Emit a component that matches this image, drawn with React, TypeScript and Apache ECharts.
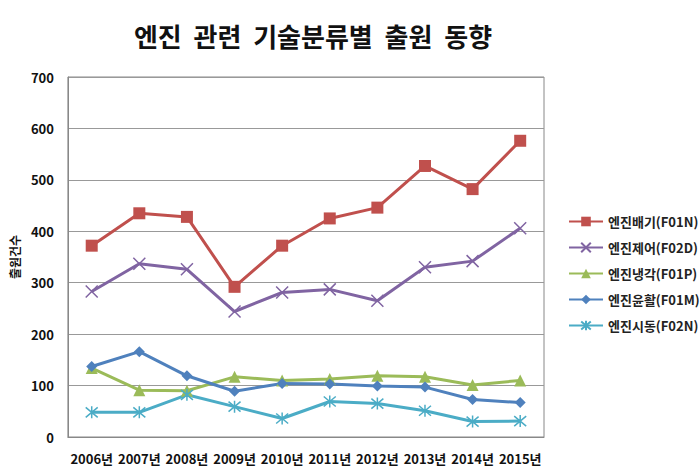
import React, { useEffect, useRef } from "react";
import * as echarts from "echarts";

const categories = ["2006년", "2007년", "2008년", "2009년", "2010년", "2011년", "2012년", "2013년", "2014년", "2015년"];
const seriesNames = ["엔진배기(F01N)", "엔진제어(F02D)", "엔진냉각(F01P)", "엔진윤활(F01M)", "엔진시동(F02N)"];
const exhaust = [372, 435, 428, 292, 372, 425, 446, 527, 482, 576];
const control = [283, 337, 326, 244, 281, 287, 265, 330, 342, 406];
const cooling = [134, 91, 90, 117, 110, 113, 119, 117, 101, 110];
const lubrication = [137, 166, 119, 89, 104, 103, 99, 97, 73, 67];
const starting = [48, 48, 82, 59, 36, 69, 65, 51, 30, 31];
const colors = ["#C0504D", "#8064A2", "#9BBB59", "#4F81BD", "#4BACC6"];

const FONT = "'Noto Sans CJK KR', 'Noto Sans', sans-serif";

export default function App() {
  const ref = useRef<HTMLDivElement>(null);
  useEffect(() => {
    if (!ref.current) return;
    const chart = echarts.init(ref.current, undefined, { renderer: "svg" });
    const xSym = "path://M0,0L10,10M10,0L0,10";
    const starSym = "path://M0,0L10,10M10,0L0,10M5,-1L5,11";
    const dataSets = [exhaust, control, cooling, lubrication, starting];
    const symbols = ["rect", xSym, "triangle", "diamond", starSym];
    const sizes = [12, 12, 12, 11, 12];
    chart.setOption({
      animation: false,
      color: colors,
      title: {
        text: "엔진  관련  기술분류별  출원  동향",
        left: 308,
        textAlign: "center",
        top: 17,
        textStyle: { fontFamily: FONT, fontSize: 26, fontWeight: "bold", color: "#111" },
      },
      legend: {
        orient: "vertical",
        left: 563,
        top: 210,
        itemGap: 13,
        itemWidth: 34,
        itemHeight: 12,
        textStyle: { fontFamily: FONT, fontSize: 13, fontWeight: "bold", color: "#222" },
        data: seriesNames,
      },
      grid: { left: 60, right: 156, top: 77, bottom: 37, show: true, borderColor: "#888", borderWidth: 1 },
      xAxis: {
        type: "category",
        data: categories,
        boundaryGap: true,
        axisLine: { lineStyle: { color: "#888" } },
        axisTick: { show: false },
        axisLabel: { fontFamily: FONT, fontSize: 13, fontWeight: "bold", color: "#111", margin: 15, interval: 0 },
      },
      yAxis: {
        type: "value",
        min: 0,
        max: 700,
        interval: 100,
        name: "출원건수",
        nameLocation: "middle",
        nameGap: 47,
        nameRotate: 90,
        nameTextStyle: { fontFamily: FONT, fontSize: 12, fontWeight: "bold", color: "#111" },
        axisLine: { show: true, lineStyle: { color: "#888" } },
        axisTick: { show: false },
        splitLine: { lineStyle: { color: "#999", width: 1 } },
        axisLabel: { fontFamily: FONT, fontSize: 13, fontWeight: "bold", color: "#111", margin: 14 },
      },
      series: dataSets.map((d, i) => ({
        name: seriesNames[i],
        type: "line",
        data: d,
        symbol: symbols[i],
        symbolSize: sizes[i],
        lineStyle: { width: 3, color: colors[i] },
        itemStyle: {
          color: colors[i],
          borderColor: colors[i],
          borderWidth: i === 1 || i === 4 ? 1.5 : 0,
        },
      })),
    });
    return () => chart.dispose();
  }, []);
  return <div ref={ref} style={{ width: 700, height: 474, position: "absolute", left: 0, top: 0 }} />;
}
